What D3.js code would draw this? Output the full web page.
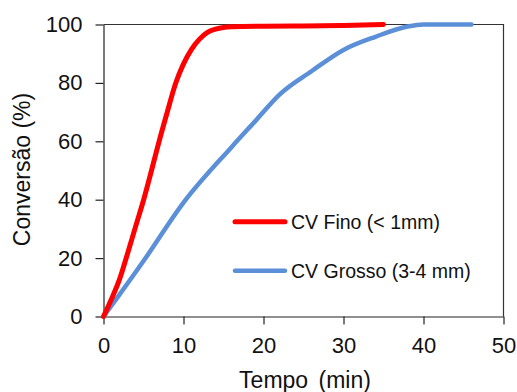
<!DOCTYPE html>
<html>
<head>
<meta charset="utf-8">
<script src="https://cdn.jsdelivr.net/npm/d3@7"></script>
<style>
  body { margin: 0; background: #fff; }
  text { font-family: "Liberation Sans", Arial, sans-serif; fill: #111; }
</style>
</head>
<body>
<svg id="chart" width="517" height="392"></svg>
<script>
"use strict";

// time (min) and conversion (%)
const finoTime = [0, 1, 2, 3, 4, 5, 6, 7, 8, 9, 10, 11, 12, 13, 14, 15, 16, 20, 25, 30, 35];
const finoConv = [0, 6, 12.7, 21.5, 30.7, 39.8, 50, 60.5, 70.3, 79.7, 86.5, 91.5, 95, 97.3, 98.4, 99, 99.2, 99.4, 99.5, 99.7, 100];

const grossoTime = [0, 2, 5, 10, 16, 19, 22, 26, 30, 34, 38, 40, 46];
const grossoConv = [0, 7.5, 19, 39, 58, 67, 76, 84, 91.3, 95.8, 99.3, 100, 100];

const seriesNames = ["CV Fino (< 1mm)", "CV Grosso (3-4 mm)"];
const seriesColors = ["#ff0000", "#5b8fd7"];

const xTicks = [0, 10, 20, 30, 40, 50];
const yTicks = [0, 20, 40, 60, 80, 100];

const xTitle = "Tempo (min)";
const yTitle = "Conversão (%)";

const width = 517,
  height = 392;
const margin = { top: 24.5, right: 13.5, bottom: 75.5, left: 103.5 };

const svg = d3.select("#chart");

const x = d3.scaleLinear().domain([0, 50]).range([margin.left, width - margin.right]);
const y = d3.scaleLinear().domain([0, 100]).range([height - margin.bottom, margin.top]);

// plot frame (top + right sides)
svg.append("path")
  .attr("d", `M${x(0)},${y(100)}H${x(50)}V${y(0)}`)
  .attr("fill", "none")
  .attr("stroke", "#333")
  .attr("stroke-width", 1.2);

// axes
const xAxis = svg.append("g")
  .attr("transform", `translate(0,${y(0)})`)
  .call(d3.axisBottom(x).tickValues(xTicks).tickSize(8).tickSizeOuter(0).tickPadding(13));

const yAxis = svg.append("g")
  .attr("transform", `translate(${x(0)},0)`)
  .call(d3.axisLeft(y).tickValues(yTicks).tickSize(8).tickSizeOuter(0).tickPadding(13));

[xAxis, yAxis].forEach((g) => {
  g.selectAll("path, line").attr("stroke", "#222").attr("stroke-width", 1.2);
  g.selectAll("text")
    .style("font-size", "22px")
    .style("font-family", "'Liberation Sans', Arial, sans-serif")
    .attr("fill", "#111");
});

// series lines
const series = [
  { name: seriesNames[0], color: seriesColors[0], width: 5, pts: finoTime.map((t, i) => [t, finoConv[i]]) },
  { name: seriesNames[1], color: seriesColors[1], width: 4.5, pts: grossoTime.map((t, i) => [t, grossoConv[i]]) }
];

const line = d3.line()
  .x((d) => x(d[0]))
  .y((d) => y(d[1]))
  .curve(d3.curveMonotoneX);

// draw blue under red so red stays visible where they meet
svg.append("g")
  .selectAll("path")
  .data(series.slice().reverse())
  .join("path")
  .attr("d", (d) => line(d.pts))
  .attr("fill", "none")
  .attr("stroke", (d) => d.color)
  .attr("stroke-width", (d) => d.width)
  .attr("stroke-linejoin", "round")
  .attr("stroke-linecap", "round");

// legend
const legend = svg.append("g")
  .selectAll("g")
  .data(series)
  .join("g")
  .attr("transform", (_, i) => `translate(235,${221.7 + i * 49})`);

legend.append("line")
  .attr("x1", 0)
  .attr("x2", 50)
  .attr("stroke", (d) => d.color)
  .attr("stroke-width", (d) => d.width)
  .attr("stroke-linecap", "round");

legend.append("text")
  .attr("x", 56)
  .attr("dy", "0.35em")
  .style("font-size", "19.5px")
  .text((d) => d.name);

// axis titles
svg.append("text")
  .attr("x", 305)
  .attr("y", 388)
  .attr("text-anchor", "middle")
  .style("font-size", "23px")
  .style("word-spacing", "4px")
  .text(xTitle);

svg.append("text")
  .attr("transform", `translate(30,${(y(0) + y(100)) / 2 - 1}) rotate(-90)`)
  .attr("text-anchor", "middle")
  .style("font-size", "23px")
  .text(yTitle);
</script>
</body>
</html>
